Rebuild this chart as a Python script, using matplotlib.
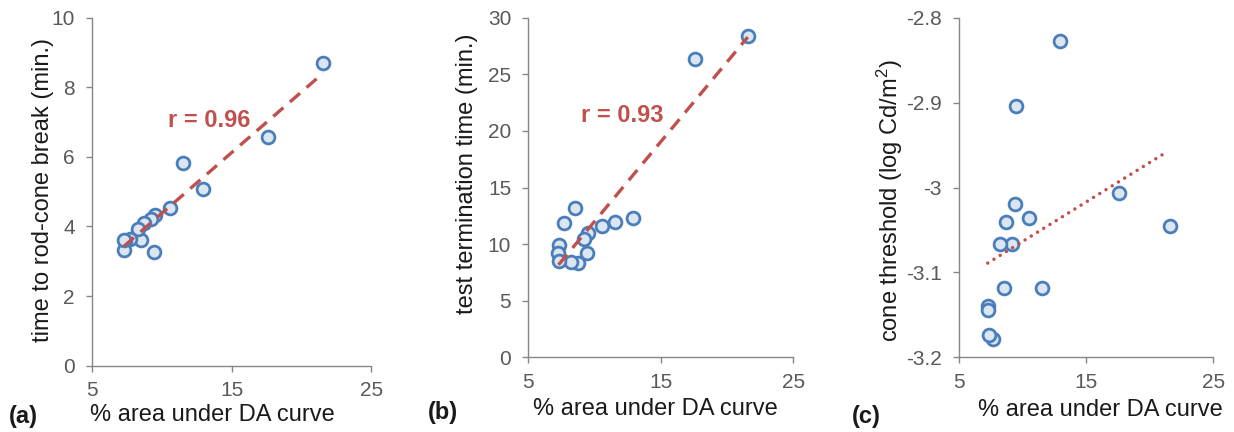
#!/usr/bin/env python

import matplotlib
matplotlib.use("Agg")
import matplotlib.pyplot as plt     # https://matplotlib.org
import numpy as np

# % area under DA curve, one value per subject (shared by all three panels)
area_pct = [21.57, 17.58, 12.94, 11.54, 10.56, 9.52, 9.45, 9.22,
            8.74, 8.53, 8.26, 7.72, 7.35, 7.28, 7.30]

# (a) time to rod-cone break (min.)
rod_cone_break = [8.69, 6.58, 5.08, 5.83, 4.52, 4.33, 3.27, 4.22,
                  4.11, 3.61, 3.93, 3.63, 3.59, 3.32, 3.60]

# (b) test termination time (min.)
termination_time = [28.38, 26.40, 12.28, 11.98, 11.60, 10.95, 9.19, 10.42,
                    8.36, 13.16, 8.45, 11.84, 9.92, 9.19, 8.53]

# (c) cone threshold (log Cd/m2)
cone_threshold = [-3.045, -3.007, -2.827, -3.118, -3.036, -2.904, -3.019, -3.066,
                  -3.041, -3.118, -3.067, -3.179, -3.174, -3.140, -3.144]

r_labels = ["r = 0.96", "r = 0.93", None]
x_ticks = [5, 15, 25]

EDGE = "#4A7EBB"
FACE = "#DCE6F2"
RED = "#C0504D"
GRAY = "#868686"
TICK_TXT = "#595959"

plt.rcParams["font.family"] = ["Liberation Sans", "DejaVu Sans"]
plt.rcParams["axes.unicode_minus"] = False
plt.rcParams["mathtext.default"] = "regular"


def style_axes(ax):
    for side in ("top", "right"):
        ax.spines[side].set_visible(False)
    for side in ("left", "bottom"):
        ax.spines[side].set_color(GRAY)
        ax.spines[side].set_linewidth(1.0)
    ax.tick_params(direction="out", length=4.3, width=1.0, color=GRAY,
                   labelcolor=TICK_TXT, labelsize=15)
    ax.tick_params(axis="x", pad=7)
    ax.tick_params(axis="y", pad=8)


def main():
    fig = plt.figure(figsize=(12.34, 4.32), dpi=100)

    ax_a = fig.add_axes([0.0746, 0.1535, 0.2261, 0.8056])
    ax_b = fig.add_axes([0.4281, 0.1729, 0.2147, 0.7860])
    ax_c = fig.add_axes([0.7769, 0.1729, 0.2063, 0.7860])

    x = np.array(area_pct)
    panels = [
        (ax_a, rod_cone_break, "time to rod-cone break (min.)", (0, 10), np.arange(0, 11, 2)),
        (ax_b, termination_time, "test termination time (min.)", (0, 30), np.arange(0, 31, 5)),
        (ax_c, cone_threshold, "cone threshold (log Cd/m$^2$)", (-3.2, -2.8), [-3.2, -3.1, -3.0, -2.9, -2.8]),
    ]

    for i, (ax, yvals, ylabel, ylim, yticks) in enumerate(panels):
        y = np.array(yvals)

        # linear trendline over the data range
        slope, icpt = np.polyfit(x, y, 1)
        xs = np.array([x.min(), x.max()])
        if i < 2:
            ax.plot(xs, slope * xs + icpt, color=RED, lw=2.4,
                    dashes=(4, 2.6), zorder=3)
        else:
            xs = np.array([x.min(), 21.2])
            ax.plot(xs, slope * xs + icpt, color=RED, lw=2.5,
                    linestyle=(0, (0.01, 2.1)), dash_capstyle="round", zorder=3)

        ax.scatter(x, y, s=85, facecolor=FACE, edgecolor=EDGE,
                   linewidths=2.0, zorder=2)

        ax.set_xlim(5, 25)
        ax.set_xticks(x_ticks)
        ax.set_ylim(*ylim)
        ax.set_yticks(yticks)
        if i == 2:
            ax.set_yticklabels([f"{t:g}" for t in yticks])
        style_axes(ax)

        ax.set_xlabel("% area under DA curve", fontsize=17, color="#1a1a1a")
        ax.set_ylabel(ylabel, fontsize=17, color="#1a1a1a")
        ax.xaxis.label.set_va("center")
        ax.yaxis.label.set_va("center")

    # r values
    ax_a.text(10.45, 7.05, r_labels[0], color=RED, fontsize=17,
              fontweight="bold", va="center")
    ax_b.text(9.0, 21.4, r_labels[1], color=RED, fontsize=17,
              fontweight="bold", va="center")

    # label positions (axes fraction)
    ax_a.xaxis.set_label_coords(0.432, -0.142)
    ax_b.xaxis.set_label_coords(0.478, -0.153)
    ax_c.xaxis.set_label_coords(0.558, -0.155)
    ax_a.yaxis.set_label_coords(-0.175, 0.505)
    ax_b.yaxis.set_label_coords(-0.233, 0.540)
    ax_c.yaxis.set_label_coords(-0.270, 0.460)

    # panel letters
    for px, py, lab in [(23, 417, "(a)"), (443, 413, "(b)"), (866, 417, "(c)")]:
        fig.text(px / 1234, 1 - py / 432, lab, fontsize=17, fontweight="bold",
                 ha="center", va="center", color="#1a1a1a")

    fig.savefig("out.png", dpi=100)


if __name__ == "__main__":
    main()
